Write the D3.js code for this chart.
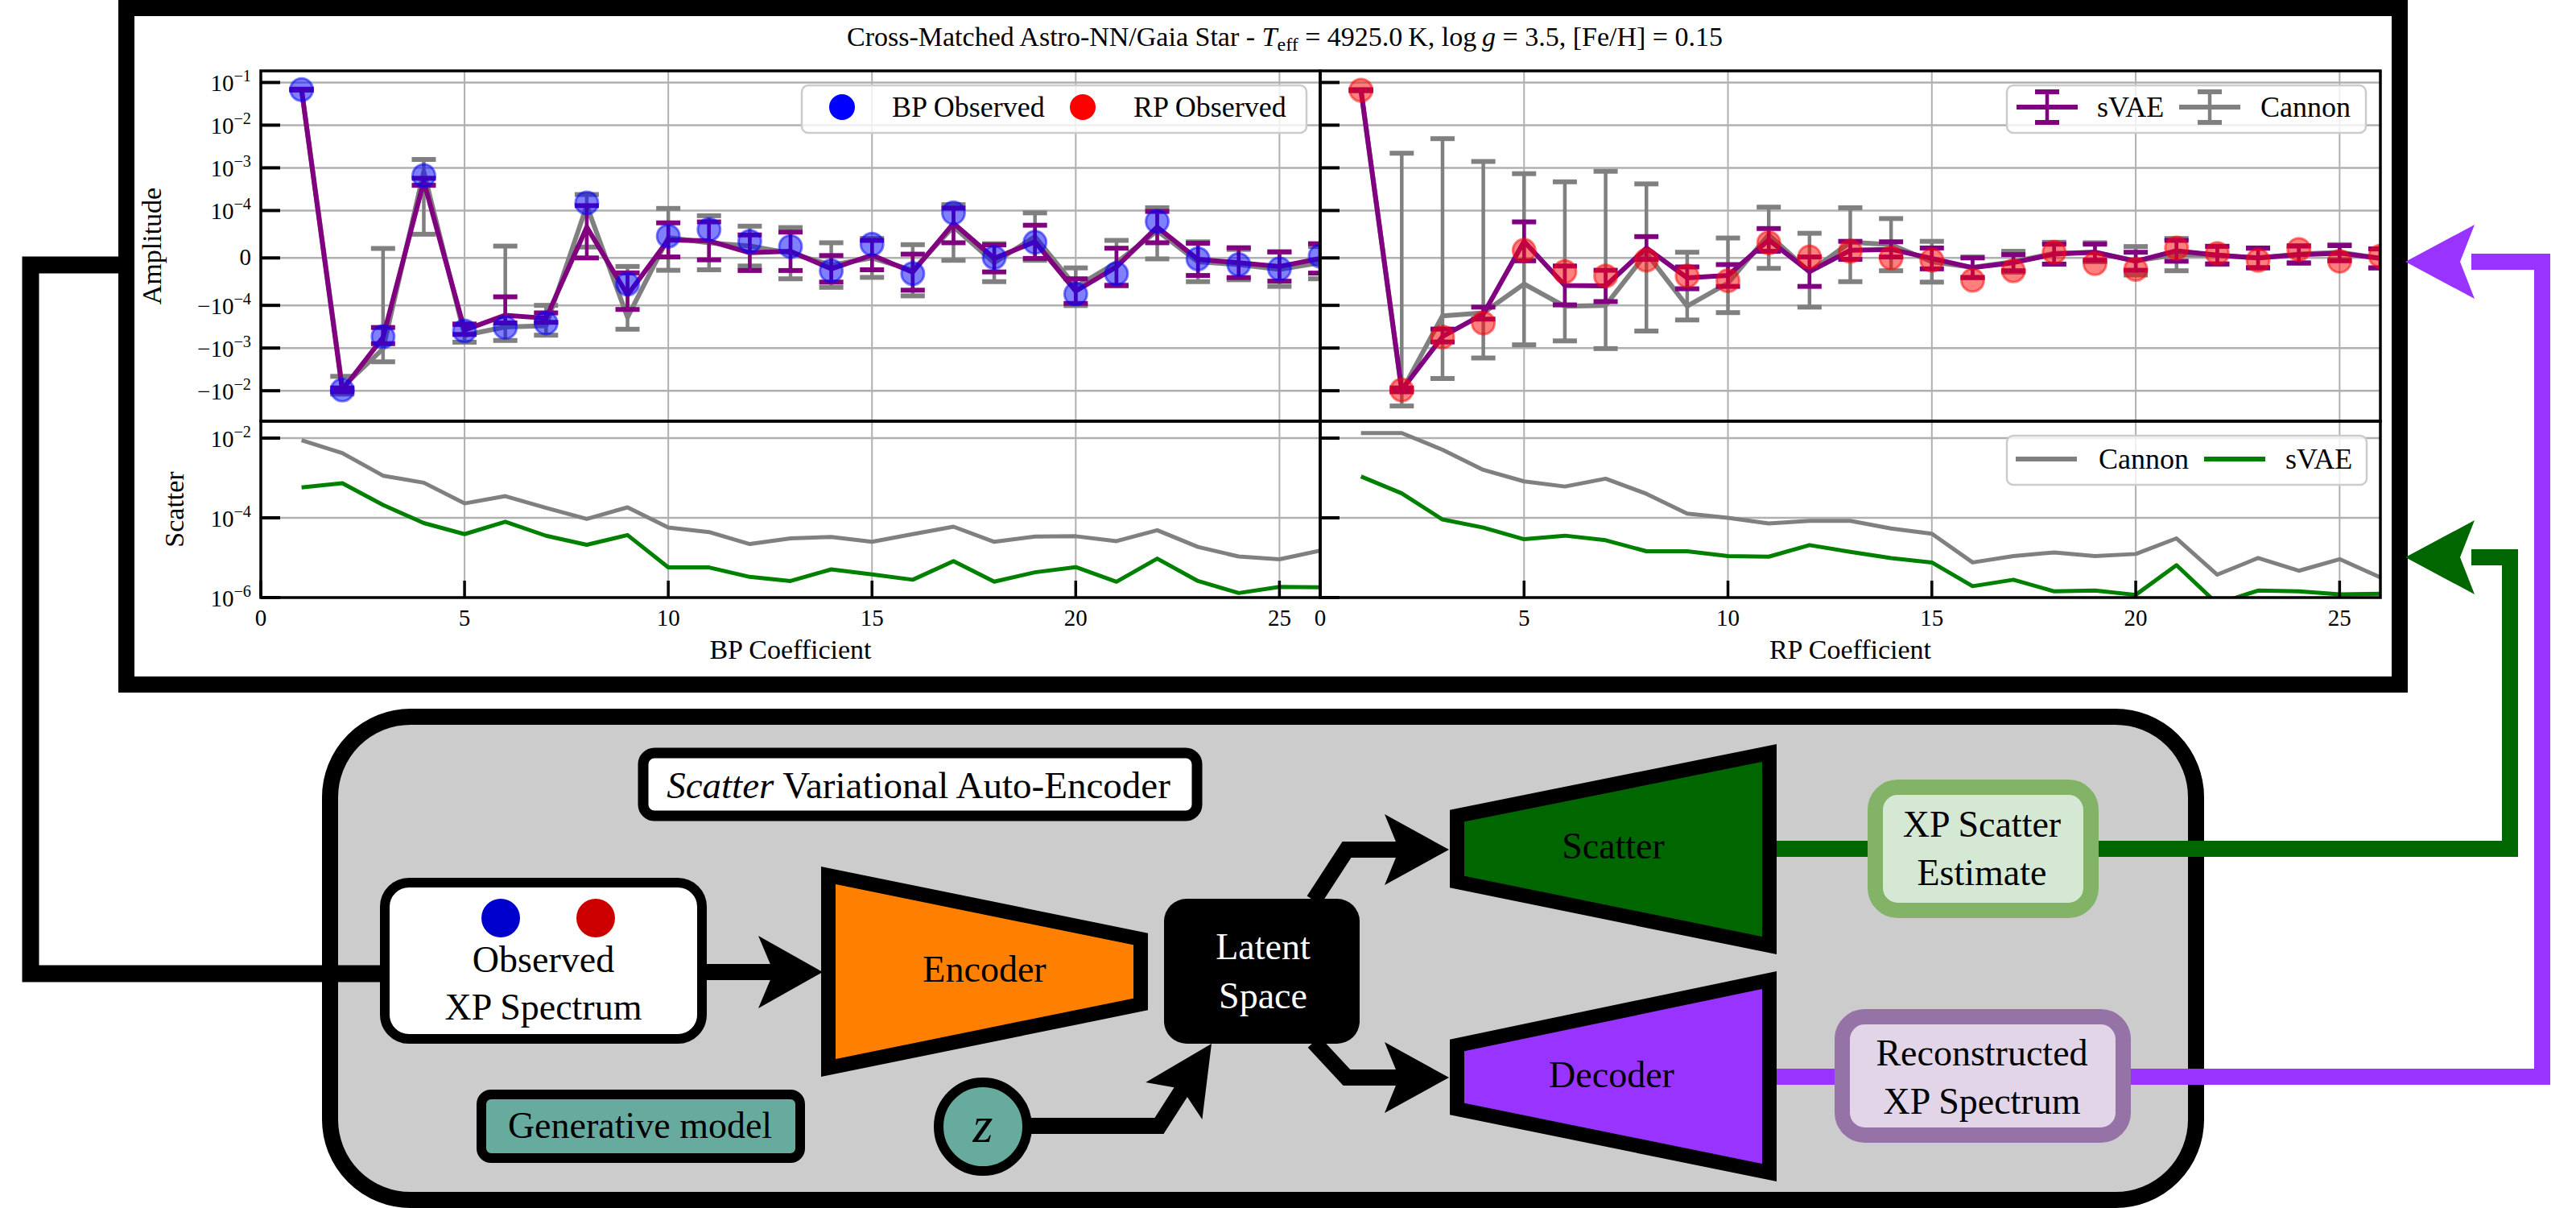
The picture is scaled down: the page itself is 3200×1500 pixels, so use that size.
<!DOCTYPE html>
<html>
<head>
<meta charset="utf-8">
<script src="https://cdn.jsdelivr.net/npm/d3@7"></script>
<style>
  body { margin: 0; background: #fff; }
  text { font-family: "Liberation Serif", "DejaVu Serif", serif; }
</style>
</head>
<body>
<svg id="fig"></svg>
<script>
// ---- data ----
var coeffs = [1,2,3,4,5,6,7,8,9,10,11,12,13,14,15,16,17,18,19,20,21,22,23,24,25,26];

// BP amplitudes (observed, sVAE +/- err, Cannon +/- err)
var bpObs = [6.8e-2,-9.6e-3,-5.4e-4,6.6e-4,-4.0e-4,-3.3e-4,-2.6e-4,1.5e-4,-5.5e-5,4.6e-5,6.0e-5,3.5e-5,2.4e-5,-2.7e-5,2.9e-5,-3.3e-5,9.5e-5,1e-6,3.3e-5,-7.6e-5,-3.3e-5,7.7e-5,-2e-6,-1.4e-5,-2.3e-5,4e-6];
var bpSvae = [6.8e-2,-9.6e-3,-5.6e-4,4.8e-4,-3.8e-4,-1.7e-4,-2.0e-4,6.5e-5,-7.8e-5,3.8e-5,3.6e-5,1.1e-5,1.4e-5,-2.3e-5,6e-6,-3.0e-5,7.3e-5,-1e-6,3.4e-5,-7.0e-5,-1.9e-5,6.5e-5,-3e-6,-1.0e-5,-1.8e-5,-1e-6];
var bpSvaeErr = [1e-3,1e-3,2.3e-4,0.9e-4,1.0e-4,0.88e-4,0.5e-4,6.5e-5,4.65e-5,3.6e-5,4.0e-5,3.75e-5,4.05e-5,2.8e-5,3.1e-5,3.8e-5,4.1e-5,2.85e-5,3.5e-5,2.6e-5,3.95e-5,3.3e-5,3.4e-5,3.15e-5,3.1e-5,3.1e-5];
var bpCannon = [6.8e-2,-8.3e-3,-1.04e-3,8.1e-4,-5.0e-4,-3.2e-4,-3.0e-4,1.3e-4,-1.9e-4,4.3e-5,3.2e-5,2.5e-5,1.0e-5,-1.5e-5,0,-2.6e-5,6.6e-5,-1e-5,4.5e-5,-6.1e-5,-1e-5,5.7e-5,-8e-6,-1.4e-5,-2.4e-5,-1e-5];
var bpCannonErr = [2e-3,3.7e-3,1.06e-3,7.6e-4,2.3e-4,3.45e-4,2e-4,1.07e-4,1.72e-4,6.9e-5,5.7e-5,4.2e-5,5.4e-5,4.7e-5,4.1e-5,5.4e-5,7.1e-5,4e-5,5e-5,4e-5,4.7e-5,5.9e-5,4.2e-5,3.2e-5,3.6e-5,3.4e-5];

// RP amplitudes
var rpObs = [6.6e-2,-9.6e-3,-5.5e-4,-2.6e-4,1.6e-5,-2.9e-5,-3.8e-5,-4.5e-6,-3.8e-5,-4.8e-5,3.2e-5,2e-6,1.4e-5,0,-4.5e-6,-4.7e-5,-2.7e-5,1.2e-5,-1.2e-5,-2.4e-5,2.1e-5,9.6e-6,-5e-6,1.8e-5,-7e-6,4e-6];
var rpSvae = [6.6e-2,-9.6e-3,-5.4e-4,-1.6e-4,3.5e-5,-5.8e-5,-5.9e-5,2.1e-5,-4.2e-5,-3.7e-5,3.8e-5,-2.9e-5,1.6e-5,1.8e-5,-1e-6,-2.05e-5,-1e-5,0.8e-5,1.2e-5,-7e-6,1.5e-5,6e-6,0,7e-6,1.0e-5,-1e-6];
var rpSvaeErr = [1e-3,1e-3,1.8e-4,0.5e-4,4.1e-5,4.1e-5,3.3e-5,2.4e-5,2.3e-5,2.3e-5,2.4e-5,3.1e-5,1.9e-5,1.6e-5,2.2e-5,2.05e-5,1.7e-5,2.1e-5,1.7e-5,1.9e-5,2.2e-5,1.85e-5,2.1e-5,1.8e-5,1.6e-5,2e-5];
var rpCannon = [6.6e-2,-1.03e-2,-1.76e-4,-1.5e-4,-5.5e-5,-1.05e-4,-1.0e-4,1e-5,-1.04e-4,-5.3e-5,4.9e-5,-2.9e-5,3.3e-5,2.8e-5,-8e-6,-2e-5,-8e-6,1.0e-5,1.2e-5,-6e-6,7e-6,5.5e-6,0,8e-6,1.2e-5,-1e-6];
var rpCannonErr = [2e-3,1.25e-2,5.0e-3,1.56e-3,7.85e-4,5.75e-4,9.3e-4,4.1e-4,1.16e-4,9.5e-5,7.1e-5,8.1e-5,8.3e-5,5.5e-5,4.3e-5,2.2e-5,2.2e-5,2.3e-5,2.0e-5,3e-5,3.4e-5,1.9e-5,2.0e-5,1.8e-5,1.6e-5,2e-5];

// scatter estimates
var bpScatCannon = [8.8e-3,4.2e-3,1.14e-3,7.6e-4,2.3e-4,3.5e-4,1.77e-4,9.4e-5,1.83e-4,5.7e-5,4.4e-5,2.2e-5,3.06e-5,3.3e-5,2.5e-5,3.9e-5,6.0e-5,2.5e-5,3.4e-5,3.45e-5,2.6e-5,4.9e-5,1.86e-5,1.07e-5,9.1e-6,1.5e-5];
var bpScatSvae = [5.8e-4,7.4e-4,2.1e-4,7.4e-5,3.9e-5,8.0e-5,3.55e-5,2.1e-5,3.7e-5,5.7e-6,5.7e-6,3.3e-6,2.6e-6,5.1e-6,3.8e-6,2.8e-6,8.2e-6,2.5e-6,4.3e-6,5.8e-6,2.5e-6,9.5e-6,2.6e-6,1.3e-6,1.86e-6,1.8e-6];
var rpScatCannon = [1.34e-2,1.34e-2,5.1e-3,1.6e-3,8.2e-4,6.1e-4,9.6e-4,4.0e-4,1.27e-4,1.0e-4,7.2e-5,8.4e-5,8.4e-5,5.4e-5,4.0e-5,7.6e-6,1.1e-5,1.36e-5,1.1e-5,1.24e-5,3.05e-5,3.76e-6,9.8e-6,4.7e-6,9.2e-6,3.2e-6];
var rpScatSvae = [1.09e-3,4.1e-4,9.1e-5,5.7e-5,2.9e-5,3.57e-5,2.74e-5,1.45e-5,1.45e-5,1.1e-5,1.06e-5,2.07e-5,1.4e-5,9.8e-6,7.6e-6,1.93e-6,2.8e-6,1.43e-6,1.5e-6,1.17e-6,6.5e-6,7e-7,1.5e-6,1.43e-6,1.2e-6,1.25e-6];

// ticks
var xTicks = [0,5,10,15,20,25];
var ampTicks = [1e-1,1e-2,1e-3,1e-4,0,-1e-4,-1e-3,-1e-2];
var scatTicks = [1e-2,1e-4,1e-6];

var W = 3200, H = 1500;
var svg = d3.select("#fig").attr("width", W).attr("height", H);
var defs = svg.append("defs");

// frame round the plots
svg.append("rect").attr("x", 157).attr("y", 10).attr("width", 2824).attr("height", 840)
  .attr("fill", "#fff").attr("stroke", "#000").attr("stroke-width", 20);

var topY = 88, midY = 523, botY = 742;

// matplotlib style symlog, linthresh 1e-4, linscale 1
var linthresh = 1e-4, linscale = 1 / (1 - 1 / 10);
function symlog(v) {
  var a = Math.abs(v);
  var t = a <= linthresh ? a / linthresh * linscale : linscale + Math.log10(a / linthresh);
  return v < 0 ? -t : t;
}
var yTopLin = d3.scaleLinear().domain([-3.825, 4.383]).range([midY, topY]);
var yTop = function(v) { return yTopLin(symlog(v)); };
var yBot = d3.scaleLog().domain([1e-6, Math.pow(10, -1.576)]).range([botY, midY]);

function clipFor(id, x0, x1, y0, y1) {
  defs.append("clipPath").attr("id", id).append("rect")
    .attr("x", x0).attr("y", y0).attr("width", x1 - x0).attr("height", y1 - y0);
}

function powLabel(g, x, y, v, size) {
  var t = g.append("text").attr("x", x).attr("y", y).attr("text-anchor", "end").attr("font-size", size);
  if (v === 0) { t.attr("y", y - 2).text("0"); return; }
  var e = Math.round(Math.log10(Math.abs(v)));
  t.append("tspan").text((v < 0 ? "\u2212" : "") + "10");
  t.append("tspan").attr("font-size", size * 0.7).attr("dy", -size * 0.42).text("\u2212" + Math.abs(e));
}

function drawErr(g, x, vals, errs, col) {
  g.append("path").datum(vals)
    .attr("d", d3.line().x(function(d, i) { return x(coeffs[i]); }).y(function(d) { return yTop(d); }))
    .attr("fill", "none").attr("stroke", col).attr("stroke-width", 6).attr("stroke-linejoin", "round");
  g.selectAll(null).data(vals).enter().append("line")
    .attr("x1", function(d, i) { return x(coeffs[i]); })
    .attr("x2", function(d, i) { return x(coeffs[i]); })
    .attr("y1", function(d, i) { return yTop(d - errs[i]); })
    .attr("y2", function(d, i) { return yTop(d + errs[i]); })
    .attr("stroke", col).attr("stroke-width", 4.5);
  [-1, 1].forEach(function(sg) {
    g.selectAll(null).data(vals).enter().append("line")
      .attr("x1", function(d, i) { return x(coeffs[i]) - 15; })
      .attr("x2", function(d, i) { return x(coeffs[i]) + 15; })
      .attr("y1", function(d, i) { return yTop(d + sg * errs[i]); })
      .attr("y2", function(d, i) { return yTop(d + sg * errs[i]); })
      .attr("stroke", col).attr("stroke-width", 6);
  });
}

var panels = [
  {x0: 324, x1: 1640, obs: bpObs, svae: bpSvae, svaeErr: bpSvaeErr, can: bpCannon, canErr: bpCannonErr,
   scatC: bpScatCannon, scatS: bpScatSvae, col: "#0000ff", xlabel: "BP Coefficient", ylabels: true},
  {x0: 1640, x1: 2957, obs: rpObs, svae: rpSvae, svaeErr: rpSvaeErr, can: rpCannon, canErr: rpCannonErr,
   scatC: rpScatCannon, scatS: rpScatSvae, col: "#ff0000", xlabel: "RP Coefficient", ylabels: false}
];

panels.forEach(function(p, pi) {
  var x = d3.scaleLinear().domain([0, 26]).range([p.x0, p.x1]);
  var g = svg.append("g");

  // grids
  [[topY, midY], [midY, botY]].forEach(function(r) {
    g.selectAll(null).data(xTicks.slice(1)).enter().append("line")
      .attr("x1", function(d) { return x(d); }).attr("x2", function(d) { return x(d); })
      .attr("y1", r[0]).attr("y2", r[1]).attr("stroke", "#b0b0b0").attr("stroke-width", 2);
  });
  g.selectAll(null).data(ampTicks).enter().append("line")
    .attr("x1", p.x0).attr("x2", p.x1)
    .attr("y1", function(d) { return yTop(d); }).attr("y2", function(d) { return yTop(d); })
    .attr("stroke", "#b0b0b0").attr("stroke-width", 2.5);
  g.selectAll(null).data([1e-2, 1e-4]).enter().append("line")
    .attr("x1", p.x0).attr("x2", p.x1)
    .attr("y1", function(d) { return yBot(d); }).attr("y2", function(d) { return yBot(d); })
    .attr("stroke", "#b0b0b0").attr("stroke-width", 2.5);

  // amplitude subplot
  clipFor("ct" + pi, p.x0, p.x1, topY, midY);
  var gt = g.append("g").attr("clip-path", "url(#ct" + pi + ")");
  drawErr(gt, x, p.can, p.canErr, "#808080");
  drawErr(gt, x, p.svae, p.svaeErr, "#800080");
  gt.selectAll(null).data(p.obs).enter().append("circle")
    .attr("cx", function(d, i) { return x(coeffs[i]); })
    .attr("cy", function(d) { return yTop(d); })
    .attr("r", 14)
    .attr("fill", p.col).attr("fill-opacity", 0.5)
    .attr("stroke", p.col).attr("stroke-opacity", 0.5).attr("stroke-width", 3);

  // scatter subplot
  clipFor("cb" + pi, p.x0, p.x1, midY, botY);
  var gb = g.append("g").attr("clip-path", "url(#cb" + pi + ")");
  var sline = d3.line().x(function(d, i) { return x(coeffs[i]); }).y(function(d) { return yBot(d); });
  gb.append("path").datum(p.scatC).attr("d", sline).attr("fill", "none")
    .attr("stroke", "#808080").attr("stroke-width", 5).attr("stroke-linejoin", "round");
  gb.append("path").datum(p.scatS).attr("d", sline).attr("fill", "none")
    .attr("stroke", "#008000").attr("stroke-width", 5).attr("stroke-linejoin", "round");

  // spines
  [[topY, midY], [midY, botY]].forEach(function(r) {
    g.append("rect").attr("x", p.x0).attr("y", r[0]).attr("width", p.x1 - p.x0).attr("height", r[1] - r[0])
      .attr("fill", "none").attr("stroke", "#000").attr("stroke-width", 3.5);
  });

  // inward ticks
  g.selectAll(null).data(ampTicks).enter().append("line")
    .attr("x1", p.x0).attr("x2", p.x0 + 24)
    .attr("y1", function(d) { return yTop(d); }).attr("y2", function(d) { return yTop(d); })
    .attr("stroke", "#000").attr("stroke-width", 4);
  g.selectAll(null).data(scatTicks).enter().append("line")
    .attr("x1", p.x0).attr("x2", p.x0 + 24)
    .attr("y1", function(d) { return yBot(d); }).attr("y2", function(d) { return yBot(d); })
    .attr("stroke", "#000").attr("stroke-width", 4);
  g.selectAll(null).data(xTicks).enter().append("line")
    .attr("x1", function(d) { return x(d); }).attr("x2", function(d) { return x(d); })
    .attr("y1", botY).attr("y2", botY - 21)
    .attr("stroke", "#000").attr("stroke-width", 3.5);

  // tick labels
  g.selectAll(null).data(xTicks).enter().append("text")
    .attr("x", function(d) { return x(d); }).attr("y", 777)
    .attr("text-anchor", "middle").attr("font-size", 29).text(function(d) { return d; });
  if (p.ylabels) {
    ampTicks.forEach(function(v) { powLabel(g, 312, yTop(v) + 11, v, 29); });
    scatTicks.forEach(function(v) { powLabel(g, 312, yBot(v) + 11, v, 29); });
    g.append("text").attr("transform", "translate(200," + ((topY + midY) / 2) + ") rotate(-90)")
      .attr("text-anchor", "middle").attr("font-size", 34).text("Amplitude");
    g.append("text").attr("transform", "translate(228," + ((midY + botY) / 2) + ") rotate(-90)")
      .attr("text-anchor", "middle").attr("font-size", 34).text("Scatter");
  }
  g.append("text").attr("x", (p.x0 + p.x1) / 2).attr("y", 818)
    .attr("text-anchor", "middle").attr("font-size", 34).text(p.xlabel);
});

// legends
function legendBox(x0, y0, x1, y1) {
  svg.append("rect").attr("x", x0).attr("y", y0).attr("width", x1 - x0).attr("height", y1 - y0)
    .attr("rx", 8).attr("fill", "#fff").attr("fill-opacity", 0.8)
    .attr("stroke", "#cccccc").attr("stroke-width", 2.5);
}
function legendText(x, y, s) {
  svg.append("text").attr("x", x).attr("y", y).attr("font-size", 36).text(s);
}
legendBox(996, 106, 1623, 165);
svg.append("circle").attr("cx", 1046).attr("cy", 133).attr("r", 16).attr("fill", "#0000ff");
legendText(1108, 145, "BP Observed");
svg.append("circle").attr("cx", 1345).attr("cy", 133).attr("r", 16).attr("fill", "#ff0000");
legendText(1408, 145, "RP Observed");

legendBox(2493, 106, 2939, 165);
[[2543, "#800080", "sVAE", 2605], [2745, "#808080", "Cannon", 2808]].forEach(function(h) {
  svg.append("line").attr("x1", h[0] - 38).attr("x2", h[0] + 38).attr("y1", 133).attr("y2", 133)
    .attr("stroke", h[1]).attr("stroke-width", 6);
  svg.append("line").attr("x1", h[0]).attr("x2", h[0]).attr("y1", 114).attr("y2", 152)
    .attr("stroke", h[1]).attr("stroke-width", 4.5);
  [114, 152].forEach(function(cy) {
    svg.append("line").attr("x1", h[0] - 15).attr("x2", h[0] + 15).attr("y1", cy).attr("y2", cy)
      .attr("stroke", h[1]).attr("stroke-width", 6);
  });
  legendText(h[3], 145, h[2]);
});

legendBox(2493, 541, 2940, 602);
[[2542, "#808080", "Cannon", 2607], [2776, "#008000", "sVAE", 2839]].forEach(function(h) {
  svg.append("line").attr("x1", h[0] - 38).attr("x2", h[0] + 38).attr("y1", 570).attr("y2", 570)
    .attr("stroke", h[1]).attr("stroke-width", 6);
  legendText(h[3], 582, h[2]);
});

// title
var title = svg.append("text").attr("x", 1596).attr("y", 57).attr("text-anchor", "middle").attr("font-size", 34);
title.append("tspan").text("Cross-Matched Astro-NN/Gaia Star - ");
title.append("tspan").attr("font-style", "italic").text("T");
title.append("tspan").attr("font-size", 24).attr("dy", 6).text("eff");
title.append("tspan").attr("dy", -6).text(" = 4925.0\u2009K, log\u2009");
title.append("tspan").attr("font-style", "italic").text("g");
title.append("tspan").text(" = 3.5, [Fe/H] = 0.15");

// ---- diagram ----
var dg = svg.append("g");

function arrowHead(tip, ang, len, half, depth, col) {
  var c = Math.cos(ang), s = Math.sin(ang);
  function pt(a, b) { return [tip[0] - a * c - b * s, tip[1] - a * s + b * c]; }
  var pts = [pt(0, 0), pt(len, half), pt(len - depth, 0), pt(len, -half)];
  dg.append("path").attr("d", "M" + pts.map(function(q) { return q.join(","); }).join("L") + "Z")
    .attr("fill", col);
}
function wire(pts, col, w) {
  dg.append("path").attr("d", d3.line()(pts)).attr("fill", "none")
    .attr("stroke", col).attr("stroke-width", w).attr("stroke-linejoin", "miter");
}

// connector from the plot to the input
wire([[147, 329], [38, 329], [38, 1209], [472, 1209]], "#000", 21);

// gray container
dg.append("rect").attr("x", 410).attr("y", 890).attr("width", 2318).attr("height", 600).attr("rx", 100)
  .attr("fill", "#cccccc").attr("stroke", "#000").attr("stroke-width", 20);
wire([[400, 1209], [472, 1209]], "#000", 21);

// output wires
wire([[2207, 1054], [3118, 1054], [3118, 692], [3070, 692]], "#006600", 20);
arrowHead([2988, 692], Math.PI, 86, 46, 18, "#006600");
wire([[2207, 1337], [3158, 1337], [3158, 325], [3070, 325]], "#9933ff", 20);
arrowHead([2988, 325], Math.PI, 86, 46, 18, "#9933ff");

// title box
dg.append("rect").attr("x", 799).attr("y", 935).attr("width", 688).attr("height", 78).attr("rx", 14)
  .attr("fill", "#fff").attr("stroke", "#000").attr("stroke-width", 13);
var tb = dg.append("text").attr("x", 1141).attr("y", 991).attr("text-anchor", "middle").attr("font-size", 47);
tb.append("tspan").attr("font-style", "italic").text("Scatter");
tb.append("tspan").text(" Variational Auto-Encoder");

// input box
dg.append("rect").attr("x", 478).attr("y", 1096).attr("width", 394).attr("height", 194).attr("rx", 30)
  .attr("fill", "#fff").attr("stroke", "#000").attr("stroke-width", 12);
dg.append("circle").attr("cx", 622).attr("cy", 1140).attr("r", 24).attr("fill", "#0000cc");
dg.append("circle").attr("cx", 740).attr("cy", 1140).attr("r", 24).attr("fill", "#cc0000");
dg.append("text").attr("x", 675).attr("y", 1207).attr("text-anchor", "middle").attr("font-size", 46).text("Observed");
dg.append("text").attr("x", 675).attr("y", 1266).attr("text-anchor", "middle").attr("font-size", 46).text("XP Spectrum");

wire([[878, 1207], [965, 1207]], "#000", 20);
arrowHead([1022, 1207], 0, 80, 45, 19, "#000");

// encoder / decoder blocks
function trap(pts, fill) {
  dg.append("path").attr("d", d3.line()(pts) + "Z").attr("fill", fill)
    .attr("stroke", "#000").attr("stroke-width", 18).attr("stroke-linejoin", "miter");
}
trap([[1029, 1087], [1417, 1166], [1417, 1247], [1029, 1326]], "#ff8000");
dg.append("text").attr("x", 1223).attr("y", 1219).attr("text-anchor", "middle").attr("font-size", 46).text("Encoder");

trap([[1810, 1013], [2198, 935], [2198, 1174], [1810, 1095]], "#006600");
dg.append("text").attr("x", 2004).attr("y", 1066).attr("text-anchor", "middle").attr("font-size", 46).text("Scatter");
trap([[1810, 1298], [2198, 1217], [2198, 1456], [1810, 1377]], "#9933ff");
dg.append("text").attr("x", 2002).attr("y", 1350).attr("text-anchor", "middle").attr("font-size", 46).text("Decoder");

// latent space
wire([[1632, 1118], [1673, 1055], [1745, 1055]], "#000", 20);
arrowHead([1800, 1055], 0, 80, 44, 18, "#000");
wire([[1632, 1294], [1673, 1338], [1745, 1338]], "#000", 20);
arrowHead([1800, 1338], 0, 80, 44, 18, "#000");
dg.append("rect").attr("x", 1446).attr("y", 1116).attr("width", 243).attr("height", 180).attr("rx", 28).attr("fill", "#000");
dg.append("text").attr("x", 1569).attr("y", 1191).attr("text-anchor", "middle").attr("font-size", 46).attr("fill", "#fff").text("Latent");
dg.append("text").attr("x", 1569).attr("y", 1252).attr("text-anchor", "middle").attr("font-size", 46).attr("fill", "#fff").text("Space");

// z and generative model
wire([[1281, 1398], [1440, 1398], [1472, 1348]], "#000", 20);
arrowHead([1505, 1296], Math.atan2(-73, 48), 85, 42, 18, "#000");
dg.append("circle").attr("cx", 1221).attr("cy", 1399).attr("r", 55)
  .attr("fill", "#67ab9f").attr("stroke", "#000").attr("stroke-width", 12);
dg.append("text").attr("x", 1221).attr("y", 1418).attr("text-anchor", "middle").attr("font-size", 64)
  .attr("font-style", "italic").text("z");
dg.append("rect").attr("x", 598).attr("y", 1359).attr("width", 396).attr("height", 79).attr("rx", 12)
  .attr("fill", "#67ab9f").attr("stroke", "#000").attr("stroke-width", 12);
dg.append("text").attr("x", 795).attr("y", 1413).attr("text-anchor", "middle").attr("font-size", 46).text("Generative model");

// output boxes
dg.append("rect").attr("x", 2329.5).attr("y", 977.5).attr("width", 268).attr("height", 153).attr("rx", 28)
  .attr("fill", "#d5e8d4").attr("stroke", "#82b366").attr("stroke-width", 19);
dg.append("text").attr("x", 2462).attr("y", 1039).attr("text-anchor", "middle").attr("font-size", 46).text("XP Scatter");
dg.append("text").attr("x", 2462).attr("y", 1099).attr("text-anchor", "middle").attr("font-size", 46).text("Estimate");

dg.append("rect").attr("x", 2288.5).attr("y", 1262.5).attr("width", 349).attr("height", 147).attr("rx", 28)
  .attr("fill", "#e1d5e7").attr("stroke", "#9673a6").attr("stroke-width", 19);
dg.append("text").attr("x", 2462).attr("y", 1323).attr("text-anchor", "middle").attr("font-size", 46).text("Reconstructed");
dg.append("text").attr("x", 2462).attr("y", 1383).attr("text-anchor", "middle").attr("font-size", 46).text("XP Spectrum");
</script>
</body>
</html>
